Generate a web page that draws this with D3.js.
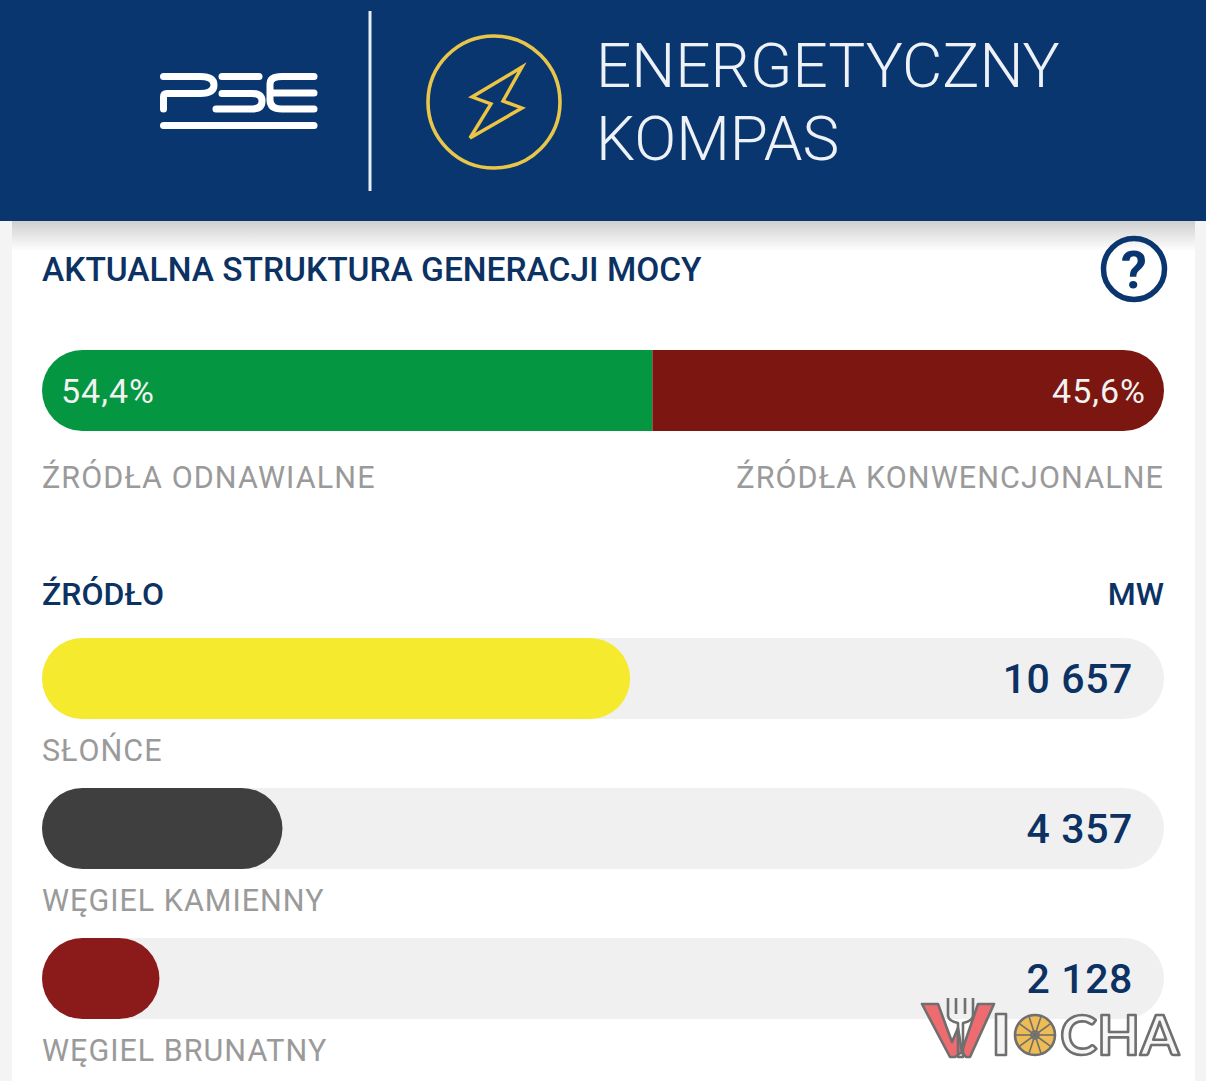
<!DOCTYPE html>
<html lang="pl">
<head>
<meta charset="utf-8">
<title>Energetyczny Kompas</title>
<script src="https://cdn.jsdelivr.net/npm/d3@7/dist/d3.min.js"></script>
<style>
  html, body { margin: 0; padding: 0; background: #f4f4f4; overflow: hidden; }
  svg { display: block; font-family: Roboto, sans-serif; }
</style>
</head>
<body>
<svg id="chart" width="1206" height="1081"></svg>
<script>
// Current generation split, percent
const shareNames = ["ŹRÓDŁA ODNAWIALNE", "ŹRÓDŁA KONWENCJONALNE"];
const shareValues = [54.4, 45.6];
const shareLabels = ["54,4%", "45,6%"];
const shareColors = ["#059641", "#7c1610"];

// Generation by source, MW
const sourceNames = ["SŁOŃCE", "WĘGIEL KAMIENNY", "WĘGIEL BRUNATNY"];
const sourceValues = [10657, 4357, 2128];
const sourceLabels = ["10 657", "4 357", "2 128"];
const sourceColors = ["#f5ea2d", "#3f3f3f", "#8b1a1a"];
const sourceScaleMax = 20330;

const navy = "#0a3670";
const titleNavy = "#0c3163";
const grey = "#9a9a9a";

const svg = d3.select("#chart");
const defs = svg.append("defs");

const shadow = defs.append("linearGradient")
  .attr("id", "headerShadow").attr("x1", 0).attr("x2", 0).attr("y1", 0).attr("y2", 1);
shadow.append("stop").attr("offset", "0").attr("stop-color", "#cfcfcf");
shadow.append("stop").attr("offset", "1").attr("stop-color", "#ffffff");

// Page card
svg.append("rect").attr("width", 1206).attr("height", 1081).attr("fill", "#f4f4f4");
svg.append("rect").attr("x", 12).attr("y", 0).attr("width", 1183).attr("height", 1081).attr("fill", "#ffffff");
svg.append("rect").attr("x", 12).attr("y", 221).attr("width", 1183).attr("height", 30).attr("fill", "url(#headerShadow)");

// Header band
const header = svg.append("g");
header.append("rect").attr("width", 1206).attr("height", 221).attr("fill", navy);

// PSE mark, built from rounded strokes
const logo = header.append("g")
  .attr("fill", "none").attr("stroke", "#ffffff").attr("stroke-width", 7).attr("stroke-linecap", "round");
const logoPaths = [
  "M163.5 76.5H200Q214 76.5 214 85Q214 93.5 200 93.5H167Q163.5 93.5 163.5 97V109",
  "M263 76.5H258Q222 76.5 222 85Q222 93.5 232 93.5H252",
  "M222 76.5H259M222 93.5H252Q262 93.5 262 101Q262 109 252 109H216",
  "M314 76.5H282Q270 76.5 270 84V100Q270 109 282 109H314M274 93H314",
  "M163.5 125.5H314"
];
logo.selectAll("path").data([logoPaths[0], logoPaths[2], logoPaths[3], logoPaths[4]]).join("path").attr("d", d => d);

header.append("line").attr("x1", 370).attr("x2", 370).attr("y1", 11).attr("y2", 191)
  .attr("stroke", "#e8eef5").attr("stroke-width", 3);

// Compass badge
header.append("circle").attr("cx", 494).attr("cy", 102).attr("r", 66)
  .attr("fill", "none").attr("stroke", "#e8c64a").attr("stroke-width", 3.6);
header.append("path")
  .attr("d", "M522 67L472 97L491 104L470 138L522 108L503 101Z")
  .attr("fill", "none").attr("stroke", "#eec443").attr("stroke-width", 3.4).attr("stroke-linejoin", "miter");

header.append("text").attr("x", 596).attr("y", 87).text("ENERGETYCZNY")
  .attr("fill", "#eef2f7").attr("font-size", 62).attr("font-weight", 300);
header.append("text").attr("x", 596).attr("y", 160).text("KOMPAS")
  .attr("fill", "#eef2f7").attr("font-size", 62).attr("font-weight", 300);

// Section title and help icon
svg.append("text").attr("x", 42).attr("y", 281).text("AKTUALNA STRUKTURA GENERACJI MOCY")
  .attr("fill", titleNavy).attr("font-size", 33.5).attr("font-weight", 500);
svg.append("circle").attr("cx", 1134).attr("cy", 269).attr("r", 30.5)
  .attr("fill", "none").attr("stroke", navy).attr("stroke-width", 5.5);
svg.append("text").attr("x", 1134).attr("y", 288).attr("text-anchor", "middle").text("?")
  .attr("fill", navy).attr("font-size", 52).attr("font-weight", 700);

const x0 = 42, x1 = 1164;

// Renewable / conventional split bar
const shareX = d3.scaleLinear().domain([0, d3.sum(shareValues)]).range([x0, x1]);
const shareStarts = d3.cumsum([0, ...shareValues]);
const shareClip = defs.append("clipPath").attr("id", "shareClip");
shareClip.append("rect").attr("x", x0).attr("y", 350).attr("width", x1 - x0).attr("height", 81).attr("rx", 40.5);
svg.append("g").attr("clip-path", "url(#shareClip)")
  .selectAll("rect").data(shareValues).join("rect")
  .attr("x", (d, i) => shareX(shareStarts[i]))
  .attr("y", 350)
  .attr("width", d => shareX(d) - shareX(0))
  .attr("height", 81)
  .attr("fill", (d, i) => shareColors[i]);

svg.selectAll(".share-value").data(shareLabels).join("text")
  .attr("class", "share-value")
  .attr("x", (d, i) => i ? 1146 : 61)
  .attr("y", 403)
  .attr("text-anchor", (d, i) => i ? "end" : "start")
  .attr("fill", "#f2f2f2").attr("font-size", 34).attr("letter-spacing", 1)
  .text(d => d);

svg.selectAll(".share-name").data(shareNames).join("text")
  .attr("class", "share-name")
  .attr("x", (d, i) => i ? x1 : x0)
  .attr("y", 488)
  .attr("text-anchor", (d, i) => i ? "end" : "start")
  .attr("fill", grey).attr("font-size", 30.5).attr("letter-spacing", 1.1)
  .text(d => d);

// Source table heading
svg.append("text").attr("x", x0).attr("y", 605).text("ŹRÓDŁO")
  .attr("fill", titleNavy).attr("font-size", 32).attr("font-weight", 500);
svg.append("text").attr("x", x1).attr("y", 605).attr("text-anchor", "end").text("MW")
  .attr("fill", titleNavy).attr("font-size", 32).attr("font-weight", 500);

// Source rows: track, value bar, figure, name
const sourceX = d3.scaleLinear().domain([0, sourceScaleMax]).range([0, x1 - x0]);
const rowY = d3.scalePoint().domain(sourceNames).range([638, 938]);

const rows = svg.selectAll(".source").data(sourceNames).join("g")
  .attr("class", "source")
  .attr("transform", d => `translate(${x0},${rowY(d)})`);

rows.append("rect").attr("width", x1 - x0).attr("height", 81).attr("rx", 40.5).attr("fill", "#f0f0f0");
rows.append("rect")
  .attr("width", (d, i) => sourceX(sourceValues[i]))
  .attr("height", 81).attr("rx", 40.5)
  .attr("fill", (d, i) => sourceColors[i]);
rows.append("text")
  .attr("x", 1091).attr("y", 55).attr("text-anchor", "end")
  .attr("fill", titleNavy).attr("font-size", 41).attr("font-weight", 500).attr("letter-spacing", 0.6)
  .text((d, i) => sourceLabels[i]);
rows.append("text")
  .attr("x", 0).attr("y", 123)
  .attr("fill", grey).attr("font-size", 30.5).attr("letter-spacing", 1)
  .text(d => d);

// WIOCHA badge in the lower corner
const badge = svg.append("g").attr("stroke", "#6f6f6f").attr("stroke-linejoin", "round");
badge.append("path")
  .attr("d", "M922 1004H938L952 1042L958 1028L962 1052L955 1057H950ZM994 1004H978L965 1042L962 1052L966 1057H970Z")
  .attr("fill", "#ee6b70").attr("stroke-width", 2.6);
badge.append("path")
  .attr("d", "M948 998V1015Q948 1021 958 1023V1057H963V1023Q973 1021 973 1015V998M956 998V1014M965 998V1014")
  .attr("fill", "none").attr("stroke-width", 2.6);
badge.append("rect").attr("x", 996).attr("y", 1014).attr("width", 10).attr("height", 41)
  .attr("fill", "#f4f4f4").attr("stroke-width", 2.6);
badge.append("circle").attr("cx", 1035).attr("cy", 1035).attr("r", 20)
  .attr("fill", "#eebb55").attr("stroke-width", 2.6);
badge.append("circle").attr("cx", 1035).attr("cy", 1035).attr("r", 4)
  .attr("fill", "#eebb55").attr("stroke-width", 1.6);
badge.append("g").selectAll("line").data(d3.range(10)).join("line")
  .attr("x1", 1035).attr("y1", 1035)
  .attr("x2", d => 1035 + 19 * Math.cos(d * Math.PI / 5))
  .attr("y2", d => 1035 + 19 * Math.sin(d * Math.PI / 5))
  .attr("stroke-width", 1.6);
badge.append("text").attr("x", 1060).attr("y", 1055).text("CHA")
  .attr("fill", "#f6f6f6").attr("stroke-width", 2.6)
  .attr("font-size", 56).attr("font-weight", 700).attr("font-family", "Lato, sans-serif");
</script>
</body>
</html>
